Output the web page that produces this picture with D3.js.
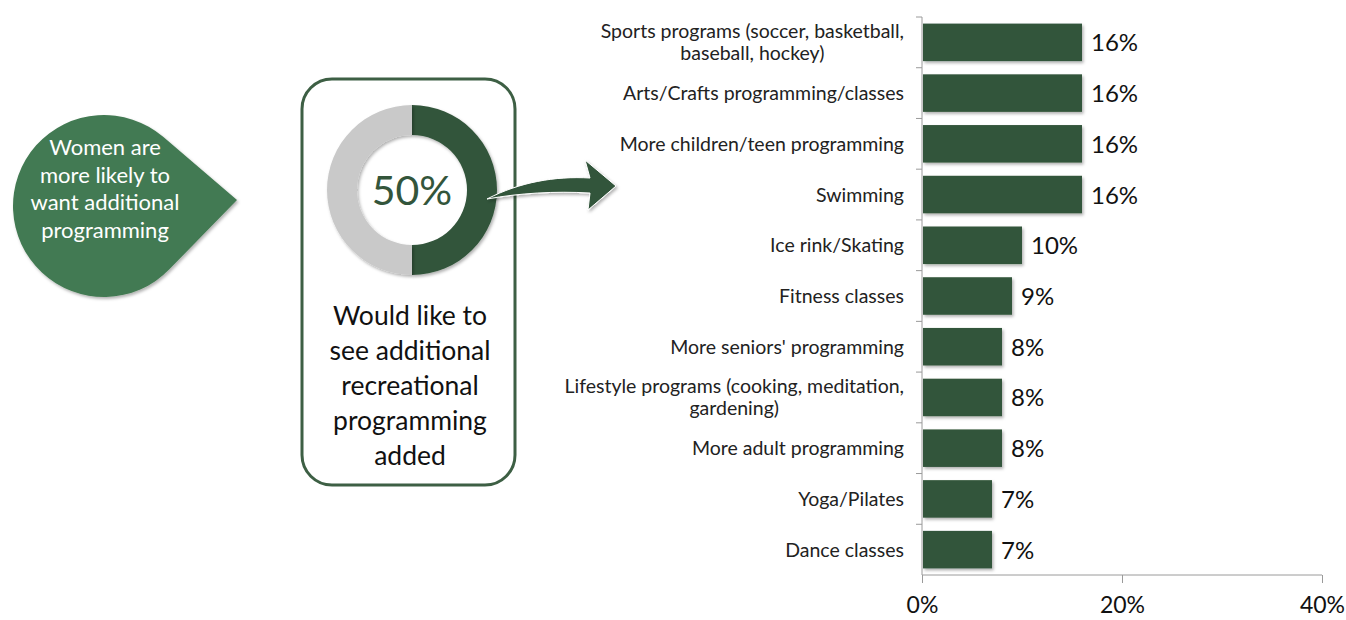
<!DOCTYPE html>
<html>
<head>
<meta charset="utf-8">
<script src="https://cdn.jsdelivr.net/npm/d3@7"></script>
<style>
  html, body { margin: 0; padding: 0; background: #fff; }
  svg { display: block; font-family: Lato, "Open Sans", sans-serif; }
</style>
</head>
<body>
<svg id="chart" width="1346" height="620"></svg>
<script>
// Programming types and the share of respondents wanting each
const categories = [
  "Sports programs (soccer, basketball,|baseball, hockey)",
  "Arts/Crafts programming/classes",
  "More children/teen programming",
  "Swimming",
  "Ice rink/Skating",
  "Fitness classes",
  "More seniors' programming",
  "Lifestyle programs (cooking, meditation,|gardening)",
  "More adult programming",
  "Yoga/Pilates",
  "Dance classes"
];
const shares = [16, 16, 16, 16, 10, 9, 8, 8, 8, 7, 7];
const xTicks = [0, 20, 40];

// Donut: share who would like additional programming
const donutValues = [50, 50];
const donutLabel = "50%";
const boxLines = ["Would like to", "see additional", "recreational", "programming", "added"];
const calloutLines = ["Women are", "more likely to", "want additional", "programming"];

const DARK = "#33553b";
const MID = "#437a52";
const GREY = "#c9c9c9";

const svg = d3.select("#chart");
const defs = svg.append("defs");
const sh = defs.append("filter").attr("id", "shadow")
  .attr("x", "-10%").attr("y", "-10%").attr("width", "130%").attr("height", "140%");
sh.append("feDropShadow").attr("dx", 1.5).attr("dy", 2).attr("stdDeviation", 1.5)
  .attr("flood-color", "#000").attr("flood-opacity", 0.3);

// ---------- Callout teardrop ----------
const cc = { x: 104, y: 206, r: 91 };
const tip = { x: 237, y: 200 };
{
  const dx = tip.x - cc.x, dy = tip.y - cc.y;
  const d = Math.hypot(dx, dy);
  const base = Math.atan2(dy, dx);
  const off = Math.acos(cc.r / d);
  const a1 = base - off, a2 = base + off;
  const p1 = [cc.x + cc.r * Math.cos(a1), cc.y + cc.r * Math.sin(a1)];
  const p2 = [cc.x + cc.r * Math.cos(a2), cc.y + cc.r * Math.sin(a2)];
  const path = `M${tip.x},${tip.y} L${p2[0]},${p2[1]} A${cc.r},${cc.r} 0 1 1 ${p1[0]},${p1[1]} Z`;
  svg.append("path").attr("d", path).attr("fill", MID).attr("filter", "url(#shadow)");
  svg.append("g").selectAll("text").data(calloutLines).join("text")
    .attr("x", 105).attr("y", (d, i) => 155 + i * 27.7)
    .attr("text-anchor", "middle").attr("font-size", 22).attr("fill", "#fff")
    .text(d => d);
}

// ---------- Rounded box with donut ----------
svg.append("rect")
  .attr("x", 302).attr("y", 79).attr("width", 213).attr("height", 406)
  .attr("rx", 30).attr("ry", 30)
  .attr("fill", "#fff").attr("stroke", "#3d5f44").attr("stroke-width", 3);

const dc = { x: 412, y: 190 };
const pie = d3.pie().sort(null)(donutValues);
const arc = d3.arc().innerRadius(55).outerRadius(85);
svg.append("g").attr("transform", `translate(${dc.x},${dc.y})`)
  .selectAll("path").data(pie).join("path")
  .attr("d", arc).attr("fill", (d, i) => i === 0 ? DARK : GREY)
  .attr("filter", "url(#shadow)");
svg.append("text")
  .attr("x", dc.x).attr("y", dc.y + 15)
  .attr("text-anchor", "middle").attr("font-size", 41).attr("fill", DARK)
  .text(donutLabel);

svg.append("g").selectAll("text").data(boxLines).join("text")
  .attr("x", 410).attr("y", (d, i) => 325 + i * 35)
  .attr("text-anchor", "middle").attr("font-size", 26.5).attr("fill", "#111")
  .text(d => d);

// Curved arrow from donut to the bar list
svg.append("path")
  .attr("d", "M487,199 C520,182 555,176 590,178 L585,160 L616,186 L588,210 L590,193 C555,191 520,193 487,199 Z")
  .attr("fill", DARK).attr("stroke", "#fff").attr("stroke-width", 1).attr("filter", "url(#shadow)");

// ---------- Bar chart ----------
const x = d3.scaleLinear().domain([0, 40]).range([922, 1322]);
const y = d3.scaleBand().domain(categories).range([17, 575]).paddingInner(0.26).paddingOuter(0.13);

// x axis
const xAxis = svg.append("g").attr("transform", "translate(0,575)")
  .call(d3.axisBottom(x).tickValues(xTicks).tickFormat(d => d + "%").tickSize(8).tickPadding(14));
xAxis.select(".domain").attr("stroke", "#9a9a9a").attr("d", "M922,0H1322");
xAxis.selectAll(".tick line").attr("stroke", "#9a9a9a");
xAxis.selectAll(".tick text").attr("font-size", 23).attr("fill", "#111")
  .attr("font-family", "Lato, 'Open Sans', sans-serif");

// y axis line with tick marks on category boundaries
const yG = svg.append("g");
yG.append("line").attr("x1", 922).attr("x2", 922).attr("y1", 17).attr("y2", 575).attr("stroke", "#9a9a9a");
yG.selectAll("line.t").data(d3.range(categories.length)).join("line")
  .attr("class", "t")
  .attr("x1", 916).attr("x2", 922)
  .attr("y1", i => 17 + i * (558 / categories.length))
  .attr("y2", i => 17 + i * (558 / categories.length))
  .attr("stroke", "#9a9a9a");

// bars
svg.append("g").selectAll("rect").data(shares).join("rect")
  .attr("x", x(0) + 1)
  .attr("y", (d, i) => y(categories[i]))
  .attr("width", d => x(d) - x(0) - 1)
  .attr("height", y.bandwidth())
  .attr("fill", DARK).attr("filter", "url(#shadow)");

// value labels
svg.append("g").selectAll("text").data(shares).join("text")
  .attr("x", d => x(d) + 9)
  .attr("y", (d, i) => y(categories[i]) + y.bandwidth() / 2 + 9)
  .attr("font-size", 24).attr("fill", "#111")
  .text(d => d + "%");

// category labels (| marks a line break; second line centred under the first)
const labG = svg.append("g").attr("font-size", 19.5).attr("fill", "#222");
categories.forEach(c => {
  const parts = c.split("|");
  const cy = y(c) + y.bandwidth() / 2;
  if (parts.length === 1) {
    labG.append("text").attr("text-anchor", "end").attr("x", 904).attr("y", cy + 7).text(parts[0]);
  } else {
    const l1 = labG.append("text").attr("text-anchor", "end").attr("x", 904).attr("y", cy - 4).text(parts[0]);
    const mid = 904 - l1.node().getComputedTextLength() / 2;
    labG.append("text").attr("text-anchor", "middle").attr("x", mid).attr("y", cy + 18).text(parts[1]);
  }
});
</script>
</body>
</html>
